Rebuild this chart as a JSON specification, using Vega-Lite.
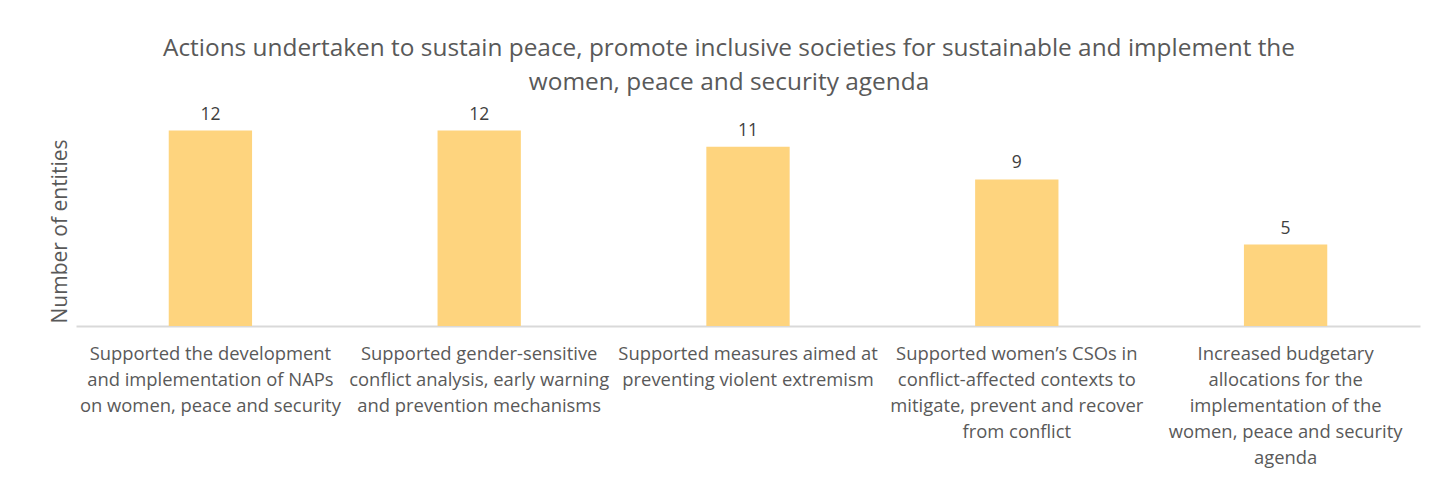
{
  "$schema": "https://vega.github.io/schema/vega-lite/v6.json",
  "autosize": "none",
  "width": 1344,
  "height": 228,
  "padding": {"left": 76, "top": 98, "right": 19, "bottom": 157},
  "background": "white",
  "config": {"view": {"stroke": null}, "font": "Open Sans"},
  "title": {
    "text": ["Actions undertaken to sustain peace, promote inclusive societies for sustainable and implement the", "women, peace and security agenda"],
    "fontSize": 24.4,
    "fontWeight": "normal",
    "color": "#595959",
    "font": "Open Sans",
    "anchor": "middle",
    "lineHeight": 34,
    "dx": -19,
    "offset": 3
  },
  "data": {
    "values": [
      {"order": 1, "label": "Supported the development|and implementation of NAPs|on women, peace and security", "value": 12},
      {"order": 2, "label": "Supported gender-sensitive|conflict analysis, early warning|and prevention mechanisms", "value": 12},
      {"order": 3, "label": "Supported measures aimed at|preventing violent extremism", "value": 11},
      {"order": 4, "label": "Supported women’s CSOs in|conflict-affected contexts to|mitigate, prevent and recover|from conflict", "value": 9},
      {"order": 5, "label": "Increased budgetary|allocations for the|implementation of the|women, peace and security|agenda", "value": 5}
    ]
  },
  "encoding": {
    "x": {
      "field": "label",
      "type": "nominal",
      "sort": {"field": "order"},
      "scale": {"paddingInner": 0.69, "paddingOuter": 0.345},
      "axis": {
        "title": null,
        "labelAngle": 0,
        "labelExpr": "split(datum.label, '|')",
        "labelFontSize": 18.4,
        "labelColor": "#595959",
        "labelLineHeight": 26,
        "labelLimit": 0,
        "labelPadding": 18,
        "labelBaseline": "top",
        "ticks": false,
        "domainColor": "#d9d9d9",
        "domainWidth": 2
      }
    },
    "y": {
      "field": "value",
      "type": "quantitative",
      "scale": {"domain": [0, 14]},
      "axis": {
        "title": "Number of entities",
        "titleFontSize": 21,
        "titleFontWeight": "normal",
        "titleColor": "#595959",
        "titleX": -16,
        "titleY": 133,
        "titleBaseline": "middle",
        "labels": false,
        "ticks": false,
        "domain": false,
        "grid": false
      }
    }
  },
  "layer": [
    {"mark": {"type": "bar", "color": "#FED47E"}},
    {
      "mark": {"type": "text", "baseline": "bottom", "dy": -7, "fontSize": 17.5, "color": "#404040"},
      "encoding": {"text": {"field": "value", "type": "quantitative"}}
    }
  ]
}
